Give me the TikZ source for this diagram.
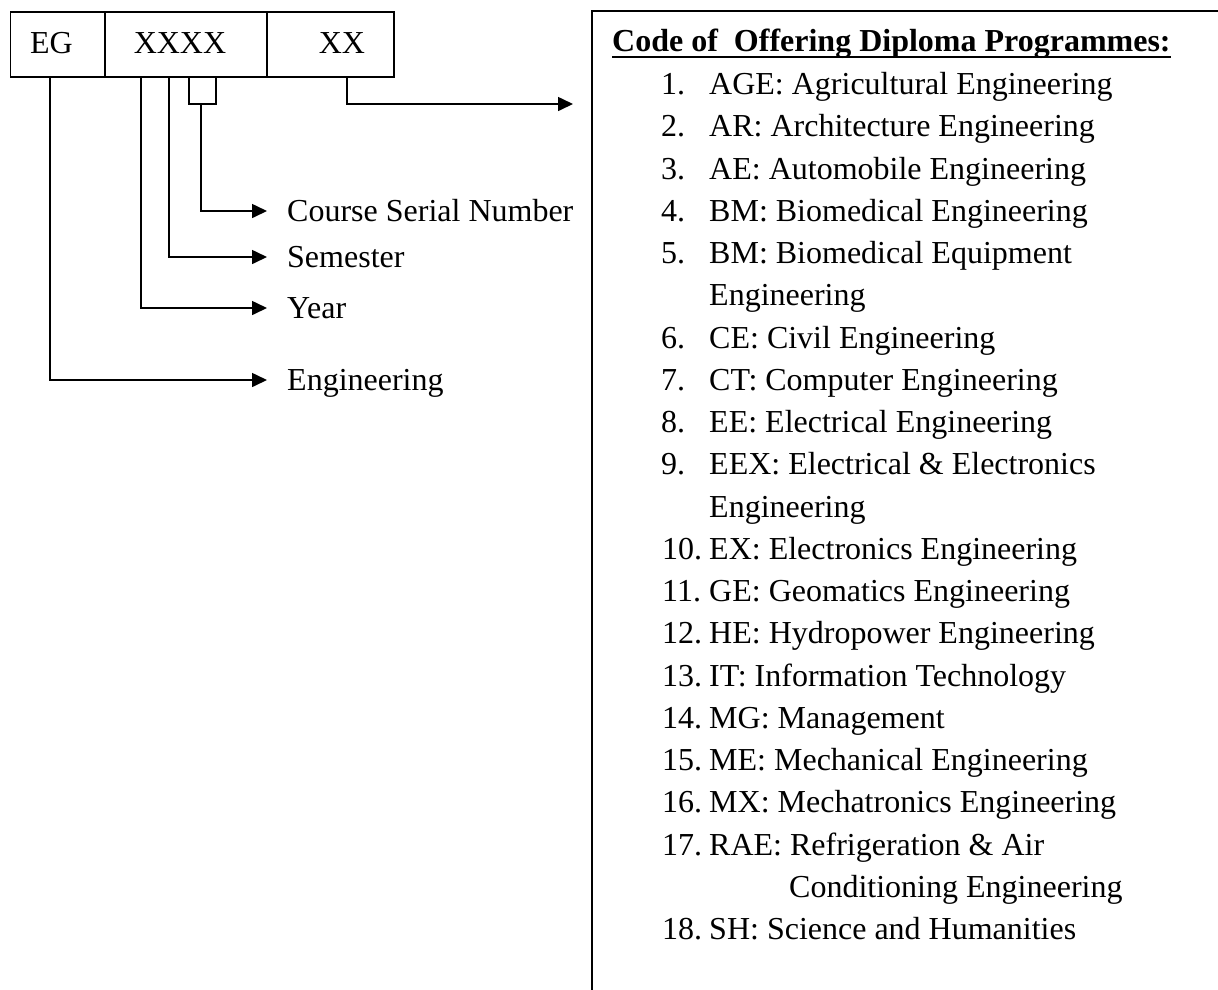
\documentclass[tikz,border=0pt]{standalone}
\usepackage{fontspec}
\setmainfont{Liberation Serif}
\usetikzlibrary{arrows.meta}
\begin{document}
\begin{tikzpicture}[x=1pt,y=-1pt,
  every node/.style={font=\fontsize{32pt}{38pt}\selectfont},
  cell/.style={draw,line width=1.6pt,minimum height=65pt,inner sep=0pt,anchor=north west},
  conn/.style={line width=1.6pt},
  arr/.style={line width=1.6pt,-{Triangle[length=15pt,width=14pt]}},
  lbl/.style={anchor=west,inner sep=0pt,text height=21.2pt,text depth=0pt},
  txt/.style={anchor=base,inner sep=0pt},
  itm/.style={anchor=base west,inner sep=0pt}]
\useasboundingbox (0,0) rectangle (1218,989);
% code cells
\node[cell,minimum width=94.5pt] (eg) at (9.5,11) {};
\node[cell,minimum width=162pt] (xxxx) at (104,11) {};
\node[cell,minimum width=127pt] (xx) at (266,11) {};
\node[txt] (egt) at (51.5,53.6) {EG};
\node[txt] (xxxxt) at (180,53.6) {XXXX};
\node[txt] (xxt) at (342,53.6) {XX};
% labels
\node[lbl] (csn) at (287,211) {Course Serial Number};
\node[lbl] (sem) at (287,257) {Semester};
\node[lbl] (year) at (287,308) {Year};
\node[lbl] (eng) at (287,380) {Engineering};
% connectors
\draw[arr] (50,0 |- eg.south) |- ([xshift=-20pt]eng.west);
\draw[arr] (141,0 |- xxxx.south) |- ([xshift=-20pt]year.west);
\draw[arr] (169,0 |- xxxx.south) |- ([xshift=-20pt]sem.west);
\coordinate (brk) at (201,104);
\draw[conn] (189,0 |- xxxx.south) |- (216,104) -- (216,0 |- xxxx.south);
\draw[arr] (brk) |- ([xshift=-20pt]csn.west);
\coordinate (xxend) at (573,104);
\draw[arr] (347,0 |- xx.south) |- (xxend);
% right box
\coordinate (btl) at (592,11);
\draw[conn] (592,1000) -- (btl) -- (1230,11);
\node[anchor=base west,inner sep=0pt,font=\fontsize{32pt}{38pt}\selectfont\bfseries] (head) at (612,51) {Code of\ \ Offering Diploma Programmes:};
\draw[line width=2pt] ([yshift=-6pt]head.base west) -- ([yshift=-6pt]head.base east);
% list
\foreach \n/\L/\t in {1/0/AGE: Agricultural Engineering,
  2/1/AR: Architecture Engineering,
  3/2/AE: Automobile Engineering,
  4/3/BM: Biomedical Engineering,
  5/4/BM: Biomedical Equipment,
  6/6/CE: Civil Engineering,
  7/7/CT: Computer Engineering,
  8/8/EE: Electrical Engineering,
  9/9/EEX: Electrical \& Electronics}{
  \node[itm] (n\n) at (661,94.6+42.25*\L) {\n.};
  \node[itm] (t\n) at (709,94.6+42.25*\L) {\t};
}
\foreach \n/\L/\t in {10/11/EX: Electronics Engineering,
  11/12/GE: Geomatics Engineering,
  12/13/HE: Hydropower Engineering,
  13/14/IT: Information Technology,
  14/15/MG: Management,
  15/16/ME: Mechanical Engineering,
  16/17/MX: Mechatronics Engineering,
  17/18/RAE: Refrigeration \& Air,
  18/20/SH: Science and Humanities}{
  \node[itm] (n\n) at (662,94.6+42.25*\L) {\n.};
  \node[itm] (t\n) at (709,94.6+42.25*\L) {\t};
}
\node[itm] (c5) at (709,94.6+42.25*5) {Engineering};
\node[itm] (c9) at (709,94.6+42.25*10) {Engineering};
\node[itm] (c17) at (789,94.6+42.25*19) {Conditioning Engineering};
\end{tikzpicture}
\end{document}
